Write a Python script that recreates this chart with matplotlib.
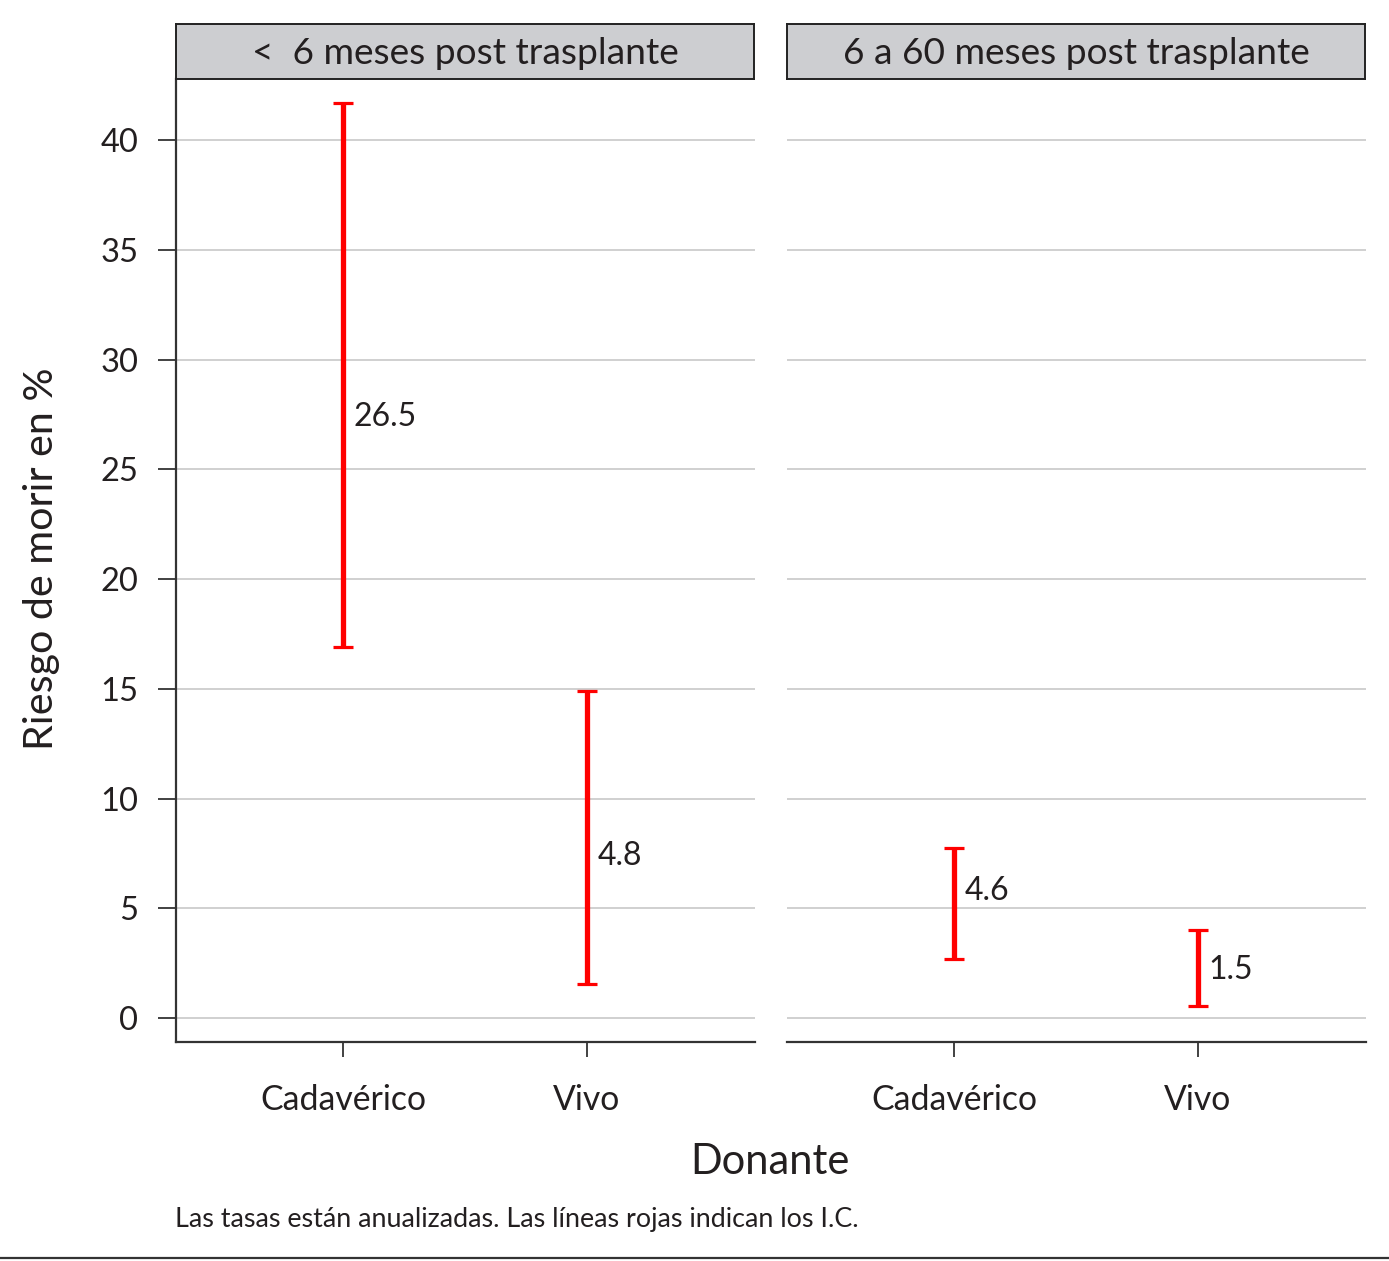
import matplotlib
matplotlib.use("Agg")
import matplotlib.pyplot as plt

plt.rcParams['font.family'] = ['Lato', 'DejaVu Sans']

# data
panels = ["<  6 meses post trasplante", "6 a 60 meses post trasplante"]
donors = ["Cadavérico", "Vivo"]
estimate = [[26.5, 4.8], [4.6, 1.5]]
ci_low = [[16.9, 1.55], [2.7, 0.55]]
ci_high = [[41.7, 14.9], [7.75, 4.0]]
label_y = [[27.4, 7.4], [5.8, 2.2]]
yticks = [0, 5, 10, 15, 20, 25, 30, 35, 40]

W, H = 1389, 1261
fig = plt.figure(figsize=(W / 100, H / 100), dpi=100)

text_col = "#231f20"
spine_col = "#333333"
lefts = [176, 787]
pw = 579
top, bottom = 79, 1042

for i, name in enumerate(panels):
    ax = fig.add_axes([lefts[i] / W, (H - bottom) / H, pw / W, (bottom - top) / H])
    x = [1, 2]
    for j in range(2):
        est = estimate[i][j]
        ax.errorbar(x[j], est, yerr=[[est - ci_low[i][j]], [ci_high[i][j] - est]],
                    fmt='none', ecolor='#ff0000', elinewidth=3.8, capsize=7.2,
                    capthick=2.3, zorder=3)
        ax.text(x[j] + 0.043, label_y[i][j], f"{est}", fontsize=23,
                color=text_col, va='center', ha='left')
    ax.set_xlim(0.316, 2.689)
    ax.set_ylim(-1.09, 42.78)
    ax.set_yticks(yticks)
    ax.set_xticks(x)
    ax.set_xticklabels(donors, fontsize=24.3, color=text_col)
    ax.yaxis.grid(True, color='#c8c8c8', linewidth=1.2)
    ax.set_axisbelow(True)
    for s in ['top', 'right']:
        ax.spines[s].set_visible(False)
    ax.spines['bottom'].set_color(spine_col)
    ax.spines['bottom'].set_linewidth(1.6)
    ax.spines['left'].set_color(spine_col)
    ax.spines['left'].set_linewidth(1.6)
    ax.tick_params(axis='x', length=11, width=1.3, color=spine_col, pad=19)
    if i == 0:
        ax.tick_params(axis='y', length=13, width=1.3, color=spine_col,
                       labelsize=23.5, labelcolor=text_col, pad=14)
    else:
        ax.spines['left'].set_visible(False)
        ax.tick_params(axis='y', left=False, labelleft=False)

    # facet strip
    sax = fig.add_axes([lefts[i] / W, (H - 79) / H, 578 / W, 55 / H])
    sax.set_facecolor('#cdced1')
    sax.set_xticks([])
    sax.set_yticks([])
    for s in sax.spines.values():
        s.set_color('#222222')
        s.set_linewidth(1.4)
    sax.text(0.5, 0.47, name, transform=sax.transAxes, ha='center', va='center',
             fontsize=26.7, color=text_col)

fig.text(42 / W, 1 - 559 / H, "Riesgo de morir en %", rotation=90, ha='center',
         va='center', fontsize=29.7, color=text_col)
fig.text(770 / W, 1 - 1162 / H, "Donante", ha='center', va='center',
         fontsize=30, color=text_col)
fig.text(175 / W, 1 - 1220 / H, "Las tasas están anualizadas. Las líneas rojas indican los I.C.",
         ha='left', va='center', fontsize=19.4, color=text_col)

# bottom rule
fig.add_artist(plt.Line2D([0, 1], [1 - 1258 / H, 1 - 1258 / H], color='#333333',
                          linewidth=1.6, transform=fig.transFigure))

fig.savefig("out.png", dpi=100, facecolor='white')
